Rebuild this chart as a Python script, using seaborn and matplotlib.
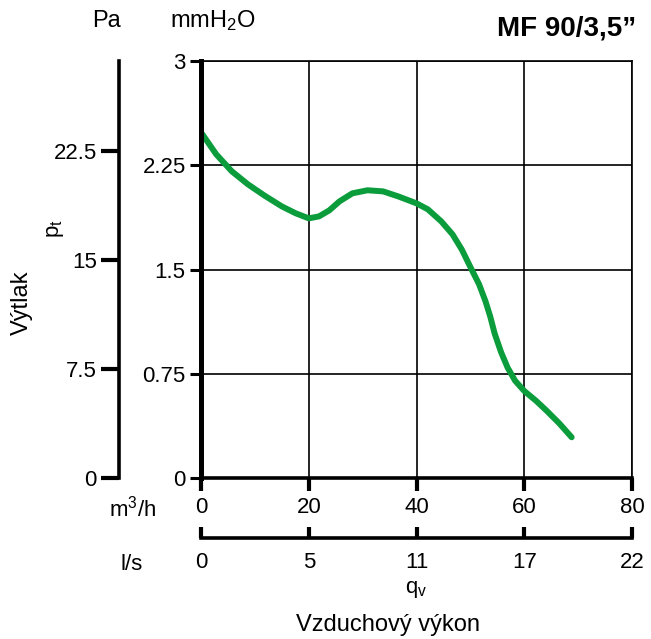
import matplotlib
matplotlib.use("Agg")
import seaborn as sns
import pandas as pd
from matplotlib import pyplot as plt

sns.set_style('white')
plt.rcParams['font.family'] = ['Liberation Sans', 'DejaVu Sans']
plt.rcParams['mathtext.fontset'] = 'custom'
plt.rcParams['mathtext.rm'] = 'Liberation Sans'
plt.rcParams['mathtext.it'] = 'Liberation Sans'
for k in ['text.color', 'axes.labelcolor', 'xtick.color', 'ytick.color',
          'axes.edgecolor']:
    plt.rcParams[k] = 'black'

# curve: flow (m3/h) vs total pressure (mmH2O)
flow_m3h = [0.2, 2.8, 5.7, 8.7, 11.7, 15.0, 17.6, 20.0, 21.9, 23.8, 25.7,
            28.1, 30.9, 33.8, 36.6, 40.0, 42.1, 44.6, 46.7, 48.4, 50.1,
            51.6, 52.8, 53.7, 54.5, 55.7, 56.9, 58.3, 60.0, 62.2, 64.1,
            66.5, 68.8]
pressure_mm = [2.476, 2.330, 2.207, 2.113, 2.034, 1.954, 1.904, 1.868,
               1.882, 1.925, 1.990, 2.048, 2.070, 2.062, 2.026, 1.976,
               1.933, 1.846, 1.752, 1.644, 1.510, 1.395, 1.272, 1.160,
               1.040, 0.905, 0.795, 0.700, 0.626, 0.555, 0.486, 0.393,
               0.293]

m3h_ticks = [0, 20, 40, 60, 80]
ls_labels = ['0', '5', '11', '17', '22']
mm_ticks = [0, 0.75, 1.5, 2.25, 3]
mm_labels = ['0', '0.75', '1.5', '2.25', '3']
pa_ticks = [0, 7.5, 15, 22.5]
pa_labels = ['0', '7.5', '15', '22.5']

df = pd.DataFrame({'q': flow_m3h, 'p': pressure_mm})

W, H = 651, 639
fig = plt.figure(figsize=(W / 100, H / 100), dpi=100)

x0, x1 = 201 / W, 632 / W
y0, y1 = 1 - 478 / H, 1 - 61 / H
ax = fig.add_axes([x0, y0, x1 - x0, y1 - y0])
sns.lineplot(data=df, x='q', y='p', ax=ax, color='#0b9c3c', lw=4.3,
             solid_capstyle='round', solid_joinstyle='round', sort=False)
ax.set_xlim(0, 80)
ax.set_ylim(0, 3)
ax.set_xticks(m3h_ticks)
ax.set_xticklabels([str(t) for t in m3h_ticks])
ax.set_yticks(mm_ticks)
ax.set_yticklabels(mm_labels)
ax.grid(True, color='black', lw=1.2)
ax.set_xlabel('')
ax.set_ylabel('')
for s in ['top', 'right']:
    ax.spines[s].set_linewidth(1.2)
ax.spines['left'].set_linewidth(3.6)
ax.spines['bottom'].set_linewidth(2.6)
ax.tick_params(axis='x', direction='out', length=9, width=3, pad=5,
               labelsize=16, bottom=True)
ax.tick_params(axis='y', direction='out', length=8, width=2.2, pad=3,
               labelsize=16, left=True)

# Pa axis on the far left
axp = fig.add_axes([119 / W, y0, 0.0001, y1 - y0])
axp.set_ylim(0, 28.7)
axp.set_yticks(pa_ticks)
axp.set_yticklabels(pa_labels)
axp.set_xticks([])
for s in ['top', 'right', 'bottom']:
    axp.spines[s].set_visible(False)
axp.spines['left'].set_linewidth(2.6)
axp.tick_params(axis='y', direction='out', length=13, width=3, pad=3,
                labelsize=16, left=True)
axp.patch.set_alpha(0)

# l/s axis below
ya = 1 - 538 / H
axl = fig.add_axes([x0, ya, x1 - x0, 0.0001])
axl.set_xlim(0, 80)
axl.set_xticks(m3h_ticks)
axl.set_xticklabels(ls_labels)
axl.set_yticks([])
for s in ['top', 'right', 'left']:
    axl.spines[s].set_visible(False)
axl.spines['bottom'].set_linewidth(2.6)
axl.tick_params(axis='x', direction='in', length=8, width=3, pad=10,
                labelsize=16, bottom=True)
axl.patch.set_alpha(0)


def px(x, y, s, **kw):
    fig.text(x / W, 1 - y / H, s, **kw)


px(636, 28, 'MF 90/3,5\u201d', fontsize=20, fontweight='bold', ha='right', va='center')
px(106, 21, 'Pa', fontsize=17, ha='center', va='center')
px(213, 21, 'mmH$_2$O', fontsize=17, ha='center', va='center')
px(133, 509, 'm$^3$/h', fontsize=16, ha='center', va='center')
px(132, 565, 'l/s', fontsize=16, ha='center', va='center')
px(416, 590, 'q$_\\mathregular{v}$', fontsize=16, ha='center', va='center')
px(388, 625, 'Vzduchový výkon', fontsize=17, ha='center', va='center')
px(22, 303, 'Výtlak', fontsize=17, ha='center', va='center', rotation=90)
px(55, 229, 'p$_\\mathregular{t}$', fontsize=16, ha='center', va='center', rotation=90)

fig.savefig('out.png', dpi=100)
